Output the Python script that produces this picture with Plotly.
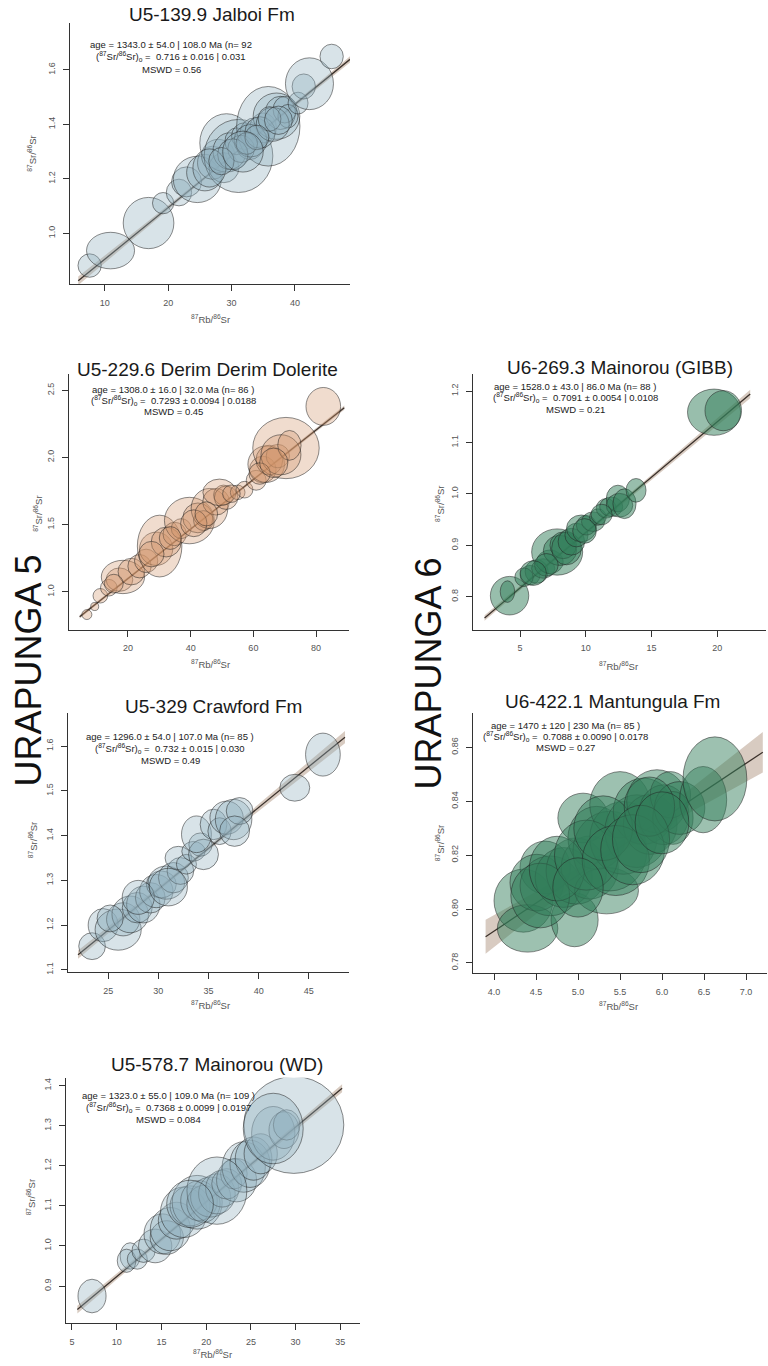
import numpy as np
import plotly.graph_objects as go

W, H = 768, 1366
FONT = "Liberation Sans, Arial, sans-serif"
LAMBDA_RB = 1.3972e-5  # 87Rb decay constant, 1/Ma

# ---------------- metadata ----------------
titles = ["U5-139.9 Jalboi Fm", "U5-229.6 Derim Derim Dolerite", "U6-269.3 Mainorou (GIBB)",
          "U5-329 Crawford Fm", "U6-422.1 Mantungula Fm", "U5-578.7 Mainorou (WD)"]
ages = [1343.0, 1308.0, 1528.0, 1296.0, 1470.0, 1323.0]
sr0 = [0.716, 0.7293, 0.7091, 0.732, 0.7088, 0.7368]
stat_age = ["age = 1343.0 ± 54.0 | 108.0 Ma (n= 92",
            "age = 1308.0 ± 16.0 | 32.0 Ma (n= 86 )",
            "age = 1528.0 ± 43.0 | 86.0 Ma (n= 88 )",
            "age = 1296.0 ± 54.0 | 107.0 Ma (n= 85 )",
            "age = 1470 ± 120 | 230 Ma (n= 85 )",
            "age = 1323.0 ± 55.0 | 109.0 Ma (n= 109 )"]
stat_sr = ["0.716 ± 0.016 | 0.031", "0.7293 ± 0.0094 | 0.0188", "0.7091 ± 0.0054 | 0.0108",
           "0.732 ± 0.015 | 0.030", "0.7088 ± 0.0090 | 0.0178", "0.7368 ± 0.0099 | 0.0197"]
stat_mswd = ["MSWD = 0.56", "MSWD = 0.45", "MSWD = 0.21", "MSWD = 0.49", "MSWD = 0.27", "MSWD = 0.084"]
group_labels = ["URAPUNGA 5", "URAPUNGA 6"]

# ---------------- ellipse data (87Rb/86Sr, 87Sr/86Sr, half-widths) ----------------
p1_x = [7.6, 10.9, 16.9, 19.2, 21.7, 22.9, 24.6, 25.8, 27.0, 27.9, 28.8, 29.2, 31.1, 29.7, 30.8,
        32.1, 32.9, 33.7, 35.0, 35.8, 37.1, 37.7, 38.4, 38.9, 40.5, 41.4, 42.3, 45.8,
        31.5, 33.0, 34.5, 36.5, 30.2, 26.5, 36.0, 32.4, 34.0, 37.4, 28.4, 31.8]
p1_y = [0.882, 0.937, 1.038, 1.111, 1.150, 1.189, 1.198, 1.223, 1.259, 1.284, 1.241, 1.332, 1.284, 1.302, 1.338,
        1.357, 1.320, 1.369, 1.387, 1.393, 1.430, 1.442, 1.454, 1.430, 1.478, 1.539, 1.549, 1.649,
        1.310, 1.340, 1.370, 1.400, 1.290, 1.240, 1.420, 1.330, 1.352, 1.415, 1.265, 1.300]
p1_rx = [1.84, 3.79, 4.0, 1.68, 2.0, 2.37, 3.79, 2.89, 2.37, 2.63, 2.37, 4.21, 5.42, 2.63, 1.84,
         2.1, 2.1, 2.37, 2.1, 5.0, 3.68, 2.37, 1.84, 1.58, 1.58, 1.84, 3.79, 1.84,
         2.1, 2.6, 2.4, 2.6, 2.4, 2.6, 1.8, 1.7, 1.9, 2.2, 2.0, 3.2]
p1_ry = [0.043, 0.067, 0.094, 0.039, 0.049, 0.055, 0.085, 0.067, 0.061, 0.061, 0.055, 0.107, 0.134, 0.067, 0.049,
         0.049, 0.049, 0.055, 0.055, 0.146, 0.085, 0.061, 0.049, 0.043, 0.040, 0.046, 0.095, 0.045,
         0.050, 0.060, 0.058, 0.062, 0.057, 0.070, 0.045, 0.040, 0.045, 0.052, 0.050, 0.075]

p2_x = [6.9, 9.4, 11.2, 13.9, 17.3, 18.4, 21.1, 23.7, 25.8, 29.0, 30.1, 32.2, 34.9, 37.0, 39.6, 42.3, 44.1,
        46.0, 48.1, 50.5, 51.3, 49.2, 55.0, 57.2, 60.9, 63.0, 64.1, 65.1, 67.8, 70.4, 68.8, 71.5, 82.3,
        15.5, 27.5, 33.5, 41.0, 45.0, 53.0, 62.0, 66.5]
p2_y = [0.83, 0.89, 0.97, 1.03, 1.09, 1.11, 1.15, 1.19, 1.23, 1.32, 1.34, 1.37, 1.43, 1.47, 1.53, 1.55, 1.53,
        1.62, 1.67, 1.72, 1.70, 1.74, 1.74, 1.76, 1.83, 1.91, 1.95, 1.98, 2.01, 2.07, 2.02, 2.09, 2.38,
        1.06, 1.28, 1.40, 1.51, 1.58, 1.73, 1.88, 1.96]
p2_rx = [1.59, 1.27, 2.34, 2.65, 4.25, 6.9, 4.25, 3.72, 3.72, 5.3, 7.1, 4.78, 3.72, 3.18, 7.96, 4.78, 3.18,
         5.84, 4.25, 3.18, 3.72, 5.3, 2.34, 2.65, 3.18, 4.25, 5.84, 4.25, 3.72, 10.6, 6.37, 3.72, 5.52,
         3.0, 4.0, 3.5, 4.2, 3.6, 2.8, 3.4, 4.5]
p2_ry = [0.037, 0.030, 0.054, 0.062, 0.087, 0.124, 0.099, 0.087, 0.087, 0.124, 0.23, 0.111, 0.087, 0.074, 0.173, 0.111, 0.074,
         0.149, 0.099, 0.074, 0.087, 0.099, 0.054, 0.062, 0.074, 0.099, 0.136, 0.111, 0.087, 0.228, 0.149, 0.111, 0.141,
         0.070, 0.095, 0.085, 0.100, 0.090, 0.065, 0.080, 0.110]

p3_x = [4.2, 4.04, 5.76, 6.26, 6.76, 7.27, 7.82, 8.03, 8.28, 8.53, 8.90, 9.29, 9.66, 10.04, 10.55, 10.92,
        11.55, 11.93, 12.44, 12.56, 12.94, 13.82, 19.75, 20.45, 7.0, 9.9, 11.2, 5.3, 6.0]
p3_y = [0.802, 0.810, 0.842, 0.849, 0.855, 0.868, 0.887, 0.890, 0.900, 0.894, 0.907, 0.920, 0.933, 0.939, 0.946, 0.955,
        0.972, 0.975, 0.991, 0.978, 0.981, 1.007, 1.159, 1.162, 0.862, 0.928, 0.960, 0.838, 0.846]
p3_rx = [1.46, 0.55, 0.76, 0.88, 0.88, 1.01, 1.94, 1.26, 1.01, 1.13, 1.01, 0.88, 1.13, 0.76, 0.88, 0.63,
         0.76, 0.88, 0.88, 1.01, 0.88, 0.76, 2.02, 1.39, 0.9, 0.9, 0.8, 0.7, 1.0]
p3_ry = [0.0375, 0.021, 0.019, 0.023, 0.019, 0.023, 0.045, 0.029, 0.026, 0.032, 0.026, 0.023, 0.026, 0.019, 0.019, 0.016,
         0.019, 0.019, 0.026, 0.023, 0.029, 0.023, 0.045, 0.039, 0.022, 0.024, 0.020, 0.018, 0.024]

p4_x = [23.4, 24.5, 26.0, 26.5, 27.2, 27.9, 28.5, 29.2, 29.8, 30.3, 30.8, 31.5, 32.2, 32.0, 32.8, 33.5,
        34.2, 34.5, 33.8, 35.5, 36.1, 36.8, 37.5, 38.1, 37.6, 43.6, 46.4, 25.2, 28.0, 31.0]
p4_y = [1.153, 1.200, 1.190, 1.213, 1.224, 1.239, 1.246, 1.261, 1.276, 1.291, 1.295, 1.306, 1.321, 1.350, 1.336, 1.365,
        1.380, 1.358, 1.403, 1.425, 1.410, 1.440, 1.436, 1.455, 1.410, 1.507, 1.581, 1.215, 1.262, 1.285]
p4_rx = [1.33, 1.49, 2.3, 1.66, 1.82, 1.49, 1.66, 1.49, 1.66, 1.49, 1.82, 1.49, 1.33, 1.33, 1.0, 1.16,
         1.16, 1.49, 1.49, 1.33, 1.16, 1.66, 1.82, 1.33, 1.49, 1.49, 1.73, 1.3, 1.6, 1.9]
p4_ry = [0.030, 0.037, 0.046, 0.037, 0.041, 0.034, 0.041, 0.034, 0.037, 0.030, 0.037, 0.034, 0.030, 0.026, 0.022, 0.022,
         0.026, 0.034, 0.041, 0.034, 0.030, 0.037, 0.045, 0.030, 0.034, 0.030, 0.048, 0.030, 0.038, 0.042]

p5_x = [4.35, 4.40, 4.96, 4.61, 4.51, 4.67, 4.83, 4.98, 5.14, 5.34, 5.06, 5.22, 5.38, 5.54, 5.50,
        5.70, 5.78, 5.86, 5.94, 6.02, 6.10, 6.13, 6.21, 6.49, 6.63,
        4.55, 4.75, 5.10, 5.30, 5.45, 5.65, 5.85, 5.00, 5.75, 6.00]
p5_y = [0.8031, 0.7928, 0.7960, 0.8154, 0.8098, 0.8086, 0.8117, 0.8141, 0.8154, 0.8068, 0.8338, 0.8264, 0.8215, 0.8264, 0.8387,
        0.8289, 0.8363, 0.8314, 0.8400, 0.8350, 0.8424, 0.8338, 0.8375, 0.8406, 0.8483,
        0.8050, 0.8150, 0.8200, 0.8300, 0.8180, 0.8220, 0.8380, 0.8080, 0.8260, 0.8320]
p5_rx = [0.35, 0.36, 0.28, 0.30, 0.32, 0.36, 0.34, 0.36, 0.34, 0.38, 0.30, 0.34, 0.44, 0.40, 0.36,
         0.38, 0.36, 0.32, 0.36, 0.30, 0.24, 0.24, 0.30, 0.28, 0.38,
         0.35, 0.33, 0.38, 0.35, 0.40, 0.38, 0.30, 0.30, 0.34, 0.32]
p5_ry = [0.0117, 0.0088, 0.0100, 0.0098, 0.0105, 0.0111, 0.0111, 0.0123, 0.0117, 0.0086, 0.0092, 0.0117, 0.0148, 0.0135, 0.0123,
         0.0135, 0.0123, 0.0111, 0.0117, 0.0111, 0.0086, 0.0098, 0.0098, 0.0123, 0.0156,
         0.0120, 0.0120, 0.0130, 0.0120, 0.0130, 0.0130, 0.0110, 0.0110, 0.0125, 0.0115]

p6_x = [7.24, 11.5, 11.1, 12.3, 13.0, 14.3, 15.1, 15.6, 16.0, 16.7, 17.5, 18.2, 19.0, 19.2, 19.7, 20.5,
        21.2, 21.8, 22.3, 23.1, 23.4, 24.2, 24.9, 25.3, 26.1, 27.5, 28.7, 29.0, 29.8, 27.5, 21.2, 18.2]
p6_y = [0.875, 0.975, 0.963, 0.967, 0.988, 1.000, 1.030, 1.021, 1.042, 1.063, 1.084, 1.100, 1.109, 1.113, 1.105, 1.122,
        1.130, 1.143, 1.155, 1.180, 1.164, 1.197, 1.205, 1.218, 1.230, 1.281, 1.289, 1.302, 1.302, 1.293, 1.138, 1.105]
p6_rx = [1.57, 1.12, 1.04, 1.12, 1.30, 1.86, 2.05, 1.86, 2.24, 2.05, 2.61, 2.24, 2.80, 2.05, 1.86, 2.24,
         2.05, 1.86, 1.68, 1.49, 2.24, 2.42, 2.24, 2.05, 1.86, 2.42, 1.68, 1.49, 5.59, 3.35, 3.35, 2.61]
p6_ry = [0.042, 0.033, 0.029, 0.025, 0.029, 0.042, 0.050, 0.042, 0.054, 0.046, 0.063, 0.050, 0.067, 0.050, 0.046, 0.050,
         0.050, 0.046, 0.038, 0.038, 0.054, 0.063, 0.059, 0.054, 0.050, 0.067, 0.046, 0.038, 0.121, 0.088, 0.084, 0.059]

ellipses = [(p1_x, p1_y, p1_rx, p1_ry), (p2_x, p2_y, p2_rx, p2_ry), (p3_x, p3_y, p3_rx, p3_ry),
            (p4_x, p4_y, p4_rx, p4_ry), (p5_x, p5_y, p5_rx, p5_ry), (p6_x, p6_y, p6_rx, p6_ry)]

# isochron line extent and envelope parameters
line_x = [(5.8, 48.7), (4.6, 89.0), (2.3, 22.5), (22.0, 48.6), (3.9, 7.2), (5.6, 35.2)]
band_min = [0.004, 0.006, 0.003, 0.004, 0.002, 0.004]
band_slope = [0.0006, 0.0003, 0.0006, 0.0008, 0.004, 0.0006]

# axes
x_ranges = [[4.5, 48.7], [1.2, 90.5], [1.42, 23.7], [21.0, 49.0], [3.75, 7.25], [4.33, 37.2]]
y_ranges = [[0.813, 1.772], [0.718, 2.62], [0.736, 1.233], [1.0956, 1.673], [0.7763, 0.8726], [0.8075, 1.42]]
x_ticks = [[10, 20, 30, 40], [20, 40, 60, 80], [5, 10, 15, 20], [25, 30, 35, 40, 45],
           [4.0, 4.5, 5.0, 5.5, 6.0, 6.5, 7.0], [5, 10, 15, 20, 25, 30, 35]]
y_ticks = [[1.0, 1.2, 1.4, 1.6], [1.0, 1.5, 2.0, 2.5], [0.8, 0.9, 1.0, 1.1, 1.2], [1.1, 1.2, 1.3, 1.4, 1.5, 1.6],
           [0.78, 0.80, 0.82, 0.84, 0.86], [0.9, 1.0, 1.1, 1.2, 1.3, 1.4]]
x_fmt = ["d", "d", "d", "d", ".1f", "d"]
y_fmt = [".1f", ".1f", ".1f", ".1f", ".2f", ".1f"]

# ---------------- layout geometry (pixels) ----------------
boxes = [(70, 350, 23, 285), (69, 349, 375, 631), (473, 766, 375, 631),
         (68, 349, 715, 974), (473, 767, 715, 975), (66, 360, 1080, 1326)]
title_pos = [(212, 15), (207, 370), (620, 368), (213, 708), (612, 703), (217, 1067)]
stats_pos = [(171, (45, 57, 70)), (173, (390, 401, 412)), (575, (387, 398, 410)),
             (170, (738, 750, 762)), (565, (727, 738, 749)), (168, (1098, 1110, 1122))]
xlab_pos = [(210, 320), (210, 665), (618, 667), (210, 1007), (618, 1008), (212, 1357)]
ylab_pos = [(32, 154), (38, 515), (440, 505), (33, 842), (440, 845), (31, 1200)]
group_pos = [(29, 672), (429, 675)]

fills = ["rgba(144,175,189,0.35)", "rgba(210,150,105,0.33)", "rgba(50,125,90,0.5)",
         "rgba(144,175,189,0.35)", "rgba(50,125,90,0.48)", "rgba(144,175,189,0.35)"]
EDGE = "rgba(35,35,35,0.65)"


def px(xp):
    return xp / W


def py(yp):
    return 1 - yp / H


axis_style = dict(showline=True, linecolor="#333", linewidth=1, ticks="outside", ticklen=6,
                  tickwidth=1, tickcolor="#333", showgrid=False, zeroline=False,
                  tickfont=dict(family=FONT, size=9, color="#555"), ticklabelstandoff=4)

fig = go.Figure()
layout = dict(width=W, height=H, margin=dict(l=0, r=0, t=0, b=0), paper_bgcolor="white",
              plot_bgcolor="white", showlegend=False, font=dict(family=FONT))
shapes = []
annotations = []

for i in range(6):
    n = "" if i == 0 else str(i + 1)
    x0, x1, y0, y1 = boxes[i]
    layout["xaxis" + n] = dict(domain=[px(x0), px(x1)], range=x_ranges[i], anchor="y" + n,
                               tickvals=x_ticks[i], tickformat=x_fmt[i], **axis_style)
    layout["yaxis" + n] = dict(domain=[py(y1), py(y0)], range=y_ranges[i], anchor="x" + n,
                               tickvals=y_ticks[i], tickformat=y_fmt[i], tickangle=-90, **axis_style)

    xs, ys, rxs, rys = ellipses[i]
    slope = np.exp(LAMBDA_RB * ages[i]) - 1
    xm = float(np.mean(xs))
    lx = np.linspace(line_x[i][0], line_x[i][1], 80)
    ly = sr0[i] + slope * lx
    hw = np.sqrt(band_min[i] ** 2 + (band_slope[i] * (lx - xm)) ** 2)
    fig.add_trace(go.Scatter(x=np.concatenate([lx, lx[::-1]]), y=np.concatenate([ly + hw, (ly - hw)[::-1]]),
                             fill="toself", fillcolor="rgba(190,168,152,0.6)", line=dict(width=0),
                             mode="lines", hoverinfo="skip", xaxis="x" + n, yaxis="y" + n))
    fig.add_trace(go.Scatter(x=lx, y=ly, mode="lines", line=dict(color="#3a302a", width=1.3),
                             hoverinfo="skip", xaxis="x" + n, yaxis="y" + n))

    for x, y, rx, ry in zip(xs, ys, rxs, rys):
        shapes.append(dict(type="circle", xref="x" + n, yref="y" + n, x0=x - rx, x1=x + rx,
                           y0=y - ry, y1=y + ry, fillcolor=fills[i],
                           line=dict(color=EDGE, width=0.8), layer="above"))

    tx, ty = title_pos[i]
    annotations.append(dict(text=titles[i], x=px(tx), y=py(ty), xref="paper", yref="paper",
                            showarrow=False, xanchor="center", yanchor="middle",
                            font=dict(family=FONT, size=19, color="#1a1a1a")))
    sx, (l1, l2, l3) = stats_pos[i]
    lines = [stat_age[i],
             "(<sup>87</sup>Sr/<sup>86</sup>Sr)<sub>o</sub> =  " + stat_sr[i],
             stat_mswd[i]]
    for txt, yy in zip(lines, (l1, l2, l3)):
        annotations.append(dict(text=txt, x=px(sx), y=py(yy), xref="paper", yref="paper",
                                showarrow=False, xanchor="center", yanchor="middle",
                                font=dict(family=FONT, size=9.5, color="#222")))
    xx, xy = xlab_pos[i]
    annotations.append(dict(text="<sup>87</sup>Rb/<sup>86</sup>Sr", x=px(xx), y=py(xy), xref="paper",
                            yref="paper", showarrow=False, xanchor="center", yanchor="middle",
                            font=dict(family=FONT, size=9.5, color="#555")))
    yx, yy = ylab_pos[i]
    annotations.append(dict(text="<sup>87</sup>Sr/<sup>86</sup>Sr", x=px(yx), y=py(yy), xref="paper",
                            yref="paper", showarrow=False, xanchor="center", yanchor="middle",
                            textangle=-90, font=dict(family=FONT, size=9.5, color="#555")))

for lab, (gx, gy) in zip(group_labels, group_pos):
    annotations.append(dict(text=lab, x=px(gx), y=py(gy), xref="paper", yref="paper",
                            showarrow=False, xanchor="center", yanchor="middle", textangle=-90,
                            font=dict(family=FONT, size=36, color="#111")))

layout["shapes"] = shapes
layout["annotations"] = annotations
fig.update_layout(**layout)
fig.write_html("out.html")
